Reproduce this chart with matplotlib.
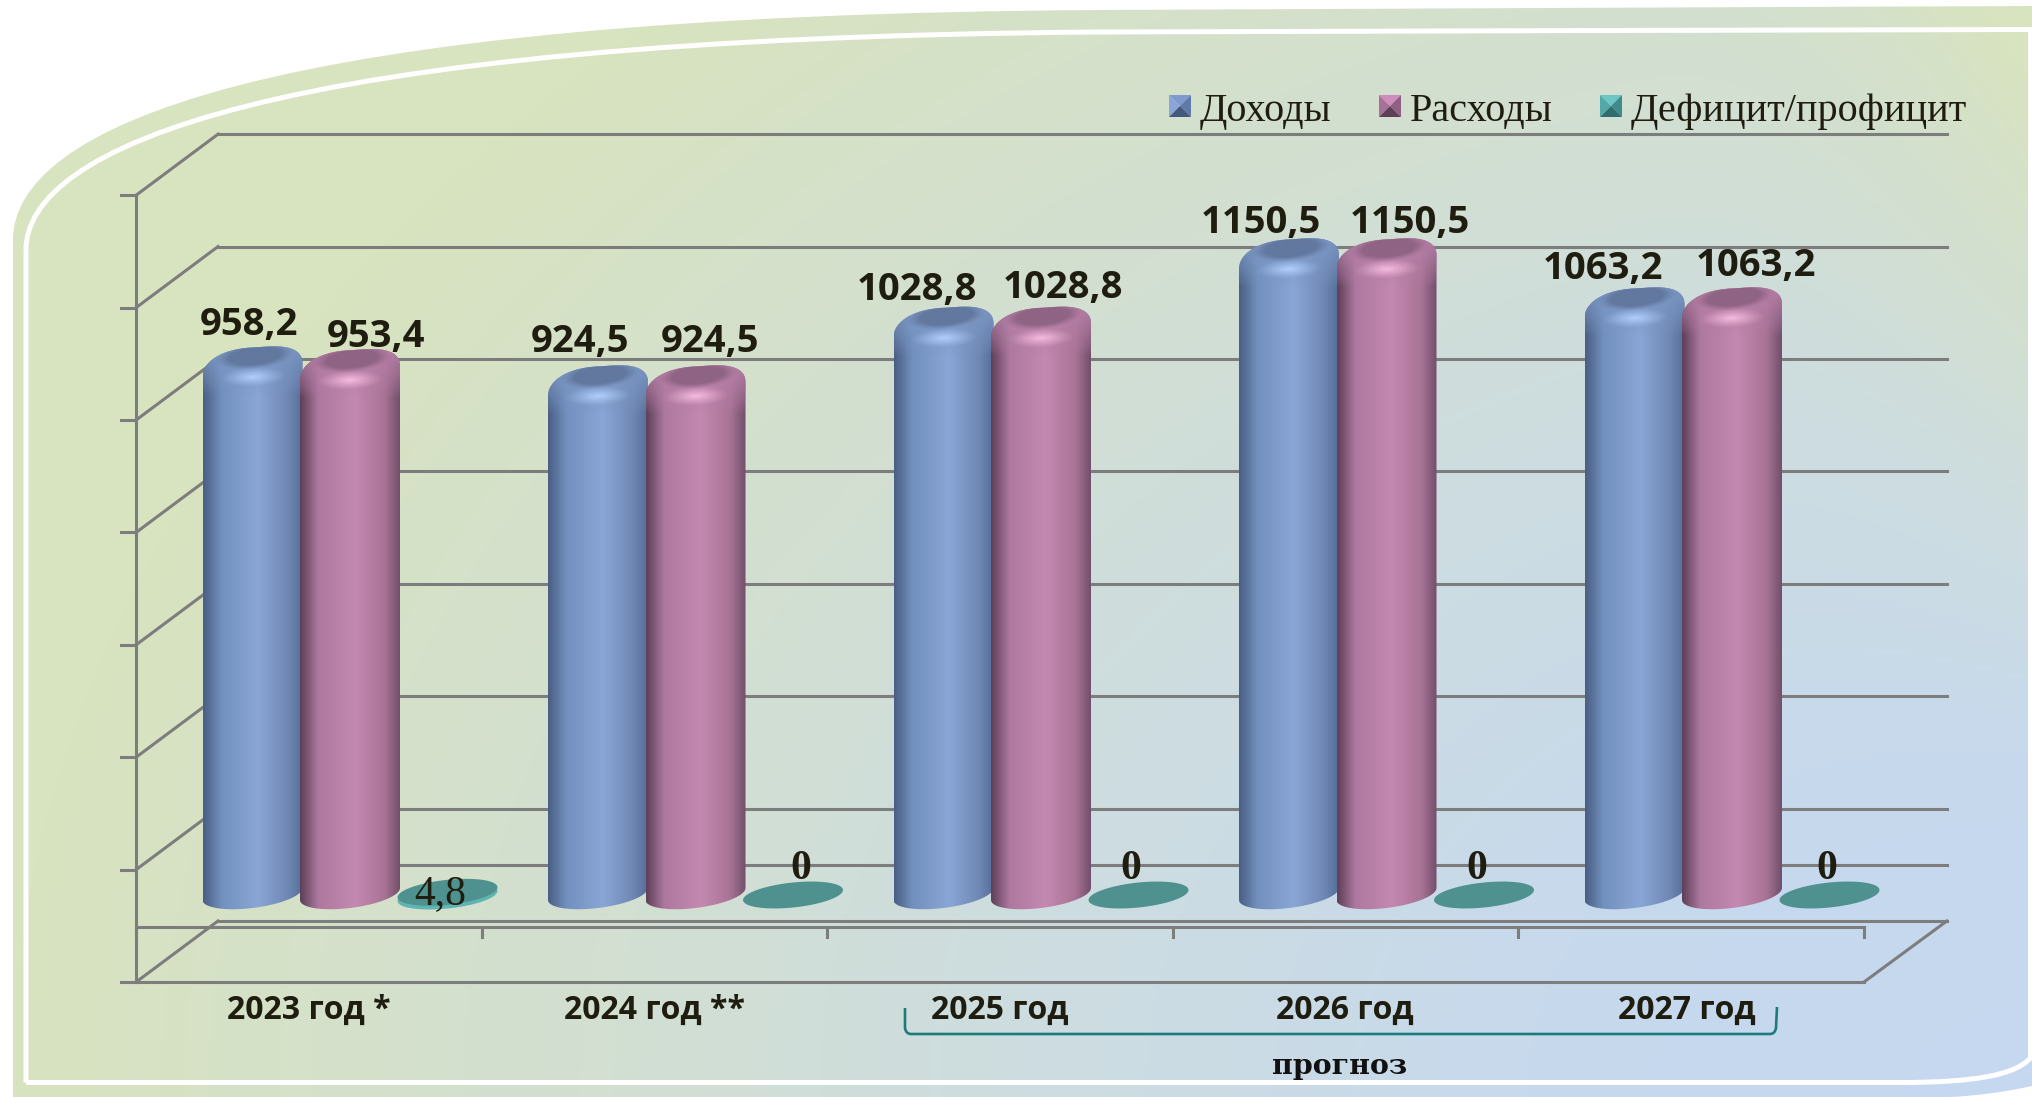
import matplotlib
matplotlib.use('Agg')
import matplotlib.pyplot as plt
import numpy as np
from matplotlib.colors import LinearSegmentedColormap, to_rgb
from matplotlib.patches import PathPatch, Polygon
from matplotlib.path import Path

# data
years = ['2023 год *', '2024 год **', '2025 год', '2026 год', '2027 год']
income = [958.2, 924.5, 1028.8, 1150.5, 1063.2]
spending = [953.4, 924.5, 1028.8, 1150.5, 1063.2]
balance = [4.8, 0, 0, 0, 0]
income_labels = ['958,2', '924,5', '1028,8', '1150,5', '1063,2']
spending_labels = ['953,4', '924,5', '1028,8', '1150,5', '1063,2']
balance_labels = ['4,8', '0', '0', '0', '0']
legend_names = ['Доходы', 'Расходы', 'Дефицит/профицит']
value_ticks = [-200, 0, 200, 400, 600, 800, 1000, 1200]

# label offsets in pixels from the top of each bar
income_dx = [-3.5, -18, -26.5, -28, -31.5]
income_dy = [30, 32, 26, 24, 27]
spending_dx = [26, 14.5, 22, 23.5, 24]
spending_dy = [21, 32, 28, 24, 30]
balance_dx = [-7.5, 8, -7.5, -7, -2.5]
balance_dy = [-3, 25, 25, 25, 25]
year_dx = [0, 0, 0, 0, -4]

W, H = 2032, 1097
CAT_PX = 345.5   # pixels per category
VAL_PX = 0.562   # pixels per unit of value
X0, Y0 = 350, 894  # pixel of category 0 (middle bar), value 0
BAR_STEP = 97.5 / CAT_PX
A = 50 / CAT_PX
DARK = '#1f1d10'
GREY = '#7d7d7d'


def u(px):
    return px / VAL_PX


def val_y(py):
    return (Y0 - py) / VAL_PX


fig = plt.figure(figsize=(W / 100, H / 100), dpi=100)
bg = fig.add_axes([0, 0, 1, 1], zorder=0)
bg.set_xlim(0, W)
bg.set_ylim(H, 0)
bg.axis('off')

# background panel, gradient runs out from the lower right corner
yy, xx = np.mgrid[0:H:4, 0:W:4]
t = np.sqrt(((W - xx) / W) ** 2 + ((H - yy) / (1.35 * H)) ** 2)
t = t + 0.35 * np.clip((xx - 1650) / 382, 0, 1) ** 2 * np.clip(1 - yy / 800, 0, 1)
t = np.clip(t, 0, 1)
grad = LinearSegmentedColormap.from_list('panel', [
    (0, '#c6d8f0'), (0.25, '#c7d9ec'), (0.5, '#cddde0'), (0.7, '#d2dfd2'), (0.85, '#d5e1c9'), (1, '#d8e3bf')])
im = bg.imshow(t, cmap=grad, vmin=0, vmax=1, extent=[0, W, H, 0], aspect='auto', zorder=1)
outer = Path([(13, H), (13, 240), (13, 130), (250, 15), (1100, 10), (1400, 8.5), (1800, 7), (W, 6),
              (W, 1086), (2005, 1092), (1975, 1096), (1950, H), (13, H)],
             [Path.MOVETO, Path.LINETO, Path.CURVE4, Path.CURVE4, Path.CURVE4,
              Path.CURVE4, Path.CURVE4, Path.CURVE4, Path.LINETO,
              Path.CURVE4, Path.CURVE4, Path.CURVE4, Path.CLOSEPOLY])
clip = PathPatch(outer, fc='none', ec='none', transform=bg.transData)
bg.add_patch(clip)
im.set_clip_path(clip)
inner = Path([(26, 1082.5), (26, 250), (26, 150), (260, 38), (1100, 32), (1400, 31), (1800, 30), (2030.5, 29.5),
              (2030.5, 1058), (2015, 1075), (1975, 1082.5), (1900, 1082.5), (26, 1082.5)],
             [Path.MOVETO, Path.LINETO, Path.CURVE4, Path.CURVE4, Path.CURVE4,
              Path.CURVE4, Path.CURVE4, Path.CURVE4, Path.LINETO,
              Path.CURVE4, Path.CURVE4, Path.CURVE4, Path.LINETO])
bg.add_patch(PathPatch(inner, fc='none', ec='white', lw=3.6, zorder=2))

ax = fig.add_axes([0, 0, 1, 1], zorder=1)
ax.patch.set_alpha(0)
ax.axis('off')
xlim = (-X0 / CAT_PX, (W - X0) / CAT_PX)
ylim = (val_y(H), val_y(0))

# walls and floor of the 3d box
FRONT = 43.4
BACK = 152
fx0, fx1 = -0.619, 4.382
bx0, bx1 = -0.382, 4.622
lw_grid = 2.2
for v in value_ticks:
    ax.plot([bx0, bx1], [v + BACK] * 2, color=GREY, lw=lw_grid, zorder=2)
    ax.plot([fx0, bx0], [v + FRONT, v + BACK], color=GREY, lw=lw_grid, zorder=2)
    ax.plot([fx0 - 15 / CAT_PX, fx0], [v + FRONT] * 2, color=GREY, lw=lw_grid, zorder=2)
ax.plot([bx0, bx1], [-100 + BACK] * 2, color=GREY, lw=lw_grid, zorder=2)
ax.plot([fx0, fx0], [value_ticks[0] + FRONT, value_ticks[-1] + FRONT], color=GREY, lw=lw_grid, zorder=2)
ax.plot([fx0, fx1], [value_ticks[0] + FRONT] * 2, color=GREY, lw=lw_grid, zorder=2)
ax.plot([fx1, bx1], [value_ticks[0] + FRONT, value_ticks[0] + BACK], color=GREY, lw=lw_grid, zorder=2)
floor_y = val_y(927)
ax.plot([fx0, fx1], [floor_y] * 2, color=GREY, lw=lw_grid, zorder=2)
for i in range(len(years) + 1):
    ax.plot([fx0 + i] * 2, [floor_y, val_y(937)], color=GREY, lw=lw_grid, zorder=2)


def soft_spot(cx, cy, rx, ry, tilt, colour, alpha, edge, z, clip_patch):
    # elliptical glow, sizes in pixels around a data-space centre
    n = 120
    gx, gy = np.meshgrid(np.linspace(-1.2, 1.2, n), np.linspace(-1.2, 1.2, n))
    dy = gy - tilt * gx
    d = np.sqrt(gx ** 2 + dy ** 2)
    img = np.zeros((n, n, 4))
    img[..., :3] = to_rgb(colour)
    img[..., 3] = alpha * np.clip((1 - d) / edge, 0, 1) ** 1.2
    im_ = ax.imshow(img, origin='lower', aspect='auto', interpolation='bilinear', zorder=z,
                    extent=[cx - 1.2 * rx / CAT_PX, cx + 1.2 * rx / CAT_PX, cy - u(1.2 * ry), cy + u(1.2 * ry)])
    im_.set_clip_path(clip_patch)


def cylinder(cx, v, body, rim, top, shine, z):
    c = v - u(6)  # centre of the lid
    s = np.linspace(np.pi, 2 * np.pi, 40)
    bottom = np.column_stack([cx + A * np.cos(s), u(14) * np.sin(s) + u(6) * np.cos(s)])
    s = np.linspace(0, np.pi, 80)
    cs, sn = np.cos(s), np.sin(s)
    # rounded shoulders, the right one sits higher
    lid = np.column_stack([cx + A * np.sign(cs) * np.abs(cs) ** 0.72,
                           c - u(9) + u(23) * sn ** 0.9 + u(7) * cs])
    pts = np.vstack([bottom, lid])
    shape = PathPatch(Path(pts), fc='none', ec='none', zorder=z)
    ax.add_patch(shape)
    grad_x = LinearSegmentedColormap.from_list('b', list(zip([0, 0.18, 0.55, 0.85, 1], body)))
    im_ = ax.imshow(np.linspace(0, 1, 100)[None, :], cmap=grad_x, aspect='auto', origin='lower',
                    extent=[cx - A, cx + A, -u(20), c + u(20)], zorder=z)
    im_.set_clip_path(shape)
    # lighter band under the lid
    band = np.zeros((60, 2, 4))
    band[..., :3] = to_rgb(rim)
    band[..., 3] = np.linspace(0, 1, 60)[:, None] ** 0.8
    im_ = ax.imshow(band, origin='lower', aspect='auto',
                    extent=[cx - A, cx + A, c - u(34), c + u(16)], zorder=z)
    im_.set_clip_path(shape)
    soft_spot(cx, c - u(16), 34, 10, 0.15, shine, 0.95, 1.0, z, shape)
    soft_spot(cx + 2 / CAT_PX, c + u(5), 40, 13, 0.3, top, 1, 0.35, z, shape)


blue = (['#4a5f85', '#7290be', '#8aa6d6', '#7088b4', '#566f9a'], '#7c97c4', '#62789f', '#b4d2ff')
pink = (['#5f4059', '#ad789f', '#c489b1', '#a87395', '#74506d'], '#b67fa6', '#8f6484', '#fbbfe3')

zz = 3
for i in range(len(years)):
    cylinder(i - BAR_STEP, income[i], *blue, zz)
    cylinder(i, spending[i], *pink, zz + 1)
    zz += 2

# teal discs for the deficit
s = np.linspace(0, 2 * np.pi, 80)
for i, v in enumerate(balance):
    cx = i + BAR_STEP
    ex = cx + A * np.cos(s)
    if v > 0:
        ax.fill(ex, u(12.5) * np.sin(s) + u(5) * np.cos(s) - u(2), color='#5fb4b4', lw=0, zorder=3)
    ax.fill(ex, v - u(1) + u(12.5) * np.sin(s) + u(5) * np.cos(s), color='#4f918f', lw=0, zorder=3)

# value labels
label_font = dict(family='Open Sans', fontweight='bold', fontsize=27.5, color=DARK, ha='center', va='center', zorder=40)
for i in range(len(years)):
    ax.annotate(income_labels[i], (i - BAR_STEP, income[i]), xytext=(income_dx[i], income_dy[i]),
                textcoords='offset pixels', **label_font)
    ax.annotate(spending_labels[i], (i, spending[i]), xytext=(spending_dx[i], spending_dy[i]),
                textcoords='offset pixels', **label_font)
    ax.annotate(balance_labels[i], (i + BAR_STEP, balance[i]), xytext=(balance_dx[i], balance_dy[i]),
                textcoords='offset pixels', family='Liberation Serif',
                fontweight='normal' if i == 0 else 'bold', fontsize=30,
                color=DARK, ha='center', va='center', zorder=40)

# category labels
for i, name in enumerate(years):
    ax.text(i - 0.12 + year_dx[i] / CAT_PX, val_y(1019), name, family='Open Sans', fontweight='bold', fontsize=23,
            color=DARK, ha='center', va='baseline', zorder=40)

ax.set_xlim(*xlim)
ax.set_ylim(*ylim)

# bracket over the forecast years
bracket = Path([(905, 1008), (905, 1028), (906, 1034), (911, 1034), (1770, 1034), (1775, 1034), (1776, 1028), (1777, 1007)],
               [Path.MOVETO, Path.LINETO, Path.CURVE3, Path.CURVE3, Path.LINETO, Path.CURVE3, Path.CURVE3, Path.LINETO])
bg.add_patch(PathPatch(bracket, fc='none', ec='#1f7a7c', lw=1.9, zorder=5))
bg.text(1340, 1074, 'прогноз', family='DejaVu Serif', fontweight='bold', fontsize=20.5, color='#111111',
        ha='center', va='baseline', zorder=5)

# legend with bevelled squares
swatches = [('#7f9ace', '#5f7aa8', '#8aa5d8', '#43587c'),
            ('#d08cbc', '#8f5f85', '#a87298', '#5e3f58'),
            ('#6cc6c4', '#3f8a8c', '#55a8a8', '#2f6d6e')]
legend_x = [1169, 1379, 1600]
text_x = [1200, 1410, 1631]
for name, sw, lx, tx in zip(legend_names, swatches, legend_x, text_x):
    x0, x1, y0, y1 = lx, lx + 22, 95, 117
    mx, my = (x0 + x1) / 2, (y0 + y1) / 2
    bg.add_patch(Polygon([(x0, y0), (x1, y0), (mx, my)], fc=sw[0], ec='none', zorder=5))
    bg.add_patch(Polygon([(x0, y0), (x0, y1), (mx, my)], fc=sw[2], ec='none', zorder=5))
    bg.add_patch(Polygon([(x1, y0), (x1, y1), (mx, my)], fc=sw[1], ec='none', zorder=5))
    bg.add_patch(Polygon([(x0, y1), (x1, y1), (mx, my)], fc=sw[3], ec='none', zorder=5))
    bg.text(tx, 121, name, family='Liberation Serif', fontsize=29, color=DARK, ha='left', va='baseline', zorder=5)

fig.savefig('out.png', dpi=100, facecolor='white')
